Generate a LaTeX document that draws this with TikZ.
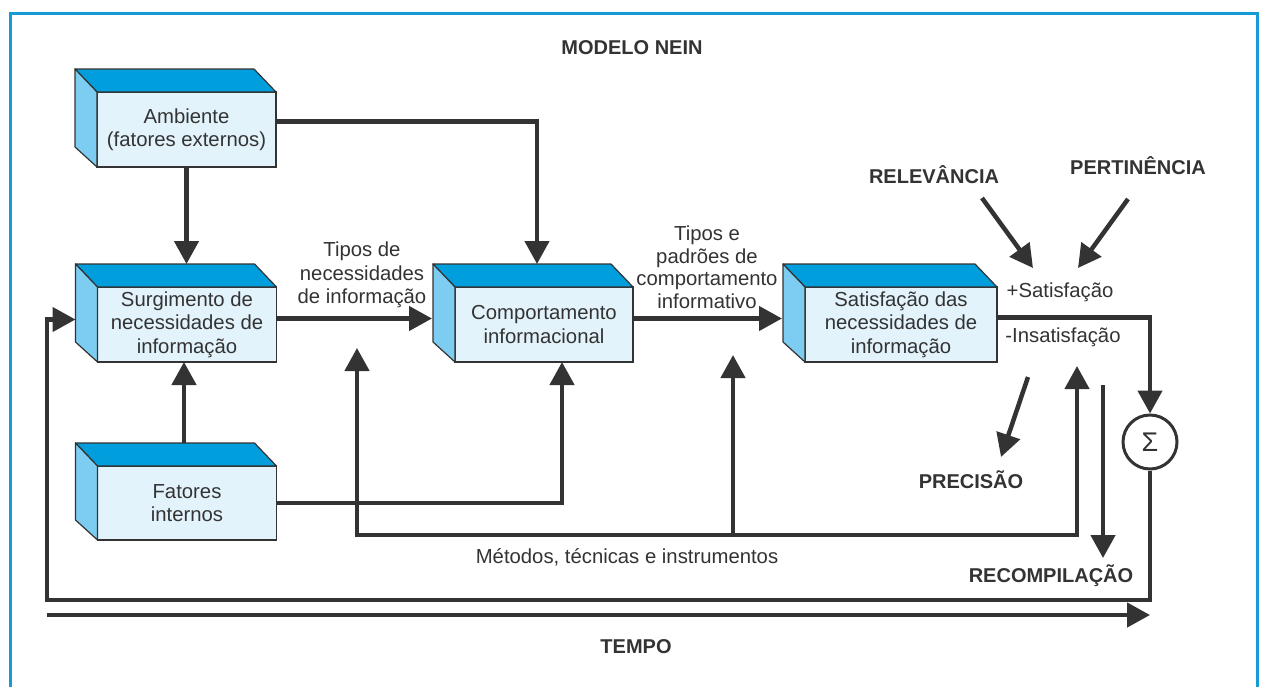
\documentclass[tikz,border=0pt]{standalone}
\usepackage{fontspec}
\setmainfont{Liberation Sans}
\usetikzlibrary{arrows.meta,calc}
\definecolor{ink}{RGB}{51,51,51}
\definecolor{frameblue}{RGB}{22,155,215}
\definecolor{topblue}{RGB}{0,158,221}
\definecolor{sideblue}{RGB}{125,205,242}
\definecolor{frontblue}{RGB}{227,243,251}

% draws the top and left faces of a box whose front face is node #1
\newcommand\cubefaces[1]{%
  \filldraw[face, fill=topblue] (#1.north west) -- ++(-22,-23) -- ($(#1.north east)+(-22,-23)$) -- (#1.north east) -- cycle;
  \filldraw[face, fill=sideblue] (#1.north west) -- ++(-22,-23) -- ($(#1.south west)+(-22,-20)$) -- (#1.south west) -- cycle;
}

\begin{document}
\begin{tikzpicture}[x=1pt,y=-1pt,
  every node/.style={text=ink, font=\fontsize{20.3}{23.5}\selectfont, align=center, inner sep=0pt},
  front/.style={draw=ink, line width=1.2pt, fill=frontblue, minimum height=75pt, outer sep=0pt},
  face/.style={draw=ink, line width=1.2pt, line join=round},
  bold/.style={font=\fontsize{20}{24}\selectfont\bfseries},
  conn/.style={draw=ink, line width=4.5pt, line join=miter},
  >={Triangle[length=23pt,width=24pt]},
  arr/.style={conn, ->}]

\useasboundingbox (0,0) rectangle (1261,686);
\clip (0,0) rectangle (1261,686);
\fill[white] (0,0) rectangle (1261,686);
\draw[frameblue, line width=3pt] (10,13) rectangle (1257,720);

% boxes
\node[front, minimum width=179pt] (amb) at (186.5,129.5) {Ambiente\\(fatores externos)};
\node[front, minimum width=179pt] (surg) at (187,324.5) {Surgimento de\\necessidades de\\informação};
\node[front, minimum width=179pt, minimum height=74pt] (fat) at (187,503) {Fatores\\internos};
\node[front, minimum width=178pt] (comp) at (544,324.5) {Comportamento\\informacional};
\node[front, minimum width=192pt] (sat) at (901,324.5) {Satisfação das\\necessidades de\\informação};
\cubefaces{amb}
\cubefaces{surg}
\cubefaces{fat}
\cubefaces{comp}
\cubefaces{sat}

\node[circle, draw=ink, line width=3pt, minimum size=54pt, fill=white, font=\fontsize{27}{28}\selectfont] (sig) at (1150,442) {Σ};

% labels
\node (lab1) at (362,275) {Tipos de\\necessidades\\de informação};
\node[font=\fontsize{20.3}{22.5}\selectfont] (lab2) at (707,267) {Tipos e\\padrões de\\comportamento\\informativo};
\node (met) at (627,557) {Métodos, técnicas e instrumentos};
\node (psat) at (1060,292) {+Satisfação};
\node (nins) at (1063,337) {-Insatisfação};
\node[bold] (title) at (632,48) {MODELO NEIN};
\node[bold] (rel) at (934,175) {RELEVÂNCIA};
\node[bold] (per) at (1138,166) {PERTINÊNCIA};
\node[bold] (pre) at (971,480) {PRECISÃO};
\node[bold] (rec) at (1051,576) {RECOMPILAÇÃO};
\node[bold] (tem) at (636,647) {TEMPO};

% connector end points
\coordinate (surgTop) at ($(surg.north)+(0,-23)$);
\coordinate (compTop) at ($(comp.north)+(-7,-23)$);
\coordinate (compIn) at ($(comp.west)+(-23,-6)$);
\coordinate (satIn) at ($(sat.west)+(-23,-6)$);
\coordinate (surgIn) at ($(surg.west)+(-22,-5)$);
\coordinate (fatTop) at ($(fat.north)+(-3,-23)$);
\coordinate (loopBR) at (1150,600);
\coordinate (loopBL) at (47,600);
\coordinate (m1) at (357,535);
\coordinate (m2) at (733,535);
\coordinate (m3) at (1077,535);
\coordinate (t1) at (357,348);
\coordinate (t2) at (733,355);
\coordinate (t3) at (1077,366);
\coordinate (relA) at (982,198);
\coordinate (relB) at (1033,268);
\coordinate (perA) at (1128,199);
\coordinate (perB) at (1078,268);
\coordinate (preA) at (1028,377);
\coordinate (preB) at (1001,457);
\coordinate (recA) at (1103,385);
\coordinate (recB) at (1103,558);
\coordinate (temA) at (47,615);
\coordinate (temB) at (1150,615);

% connectors
\draw[arr] (amb.south) -- (amb.south |- surgTop);
\draw[arr] ($(amb.east)+(0,-8)$) -| (compTop);
\draw[arr] ($(surg.east)+(0,-6)$) -- (compIn);
\draw[arr] ($(comp.east)+(0,-6)$) -- (satIn);
\draw[arr] ($(sat.east)+(0,-7)$) -| (sig.north);
\draw[arr] (sig.south) -- (loopBR) -- (loopBL) |- (surgIn);
\draw[arr] (fatTop) -- (fatTop |- surg.south);
\draw[arr] (fat.east) -| ($(comp.south)+(18,0)$);
\draw[conn, <->] (t1) -- (m1) -- (m3) -- (t3);
\draw[arr] (m2) -- (t2);
\draw[arr] (relA) -- (relB);
\draw[arr] (perA) -- (perB);
\draw[arr] (preA) -- (preB);
\draw[arr] (recA) -- (recB);
\draw[arr] (temA) -- (temB);
\end{tikzpicture}
\end{document}
